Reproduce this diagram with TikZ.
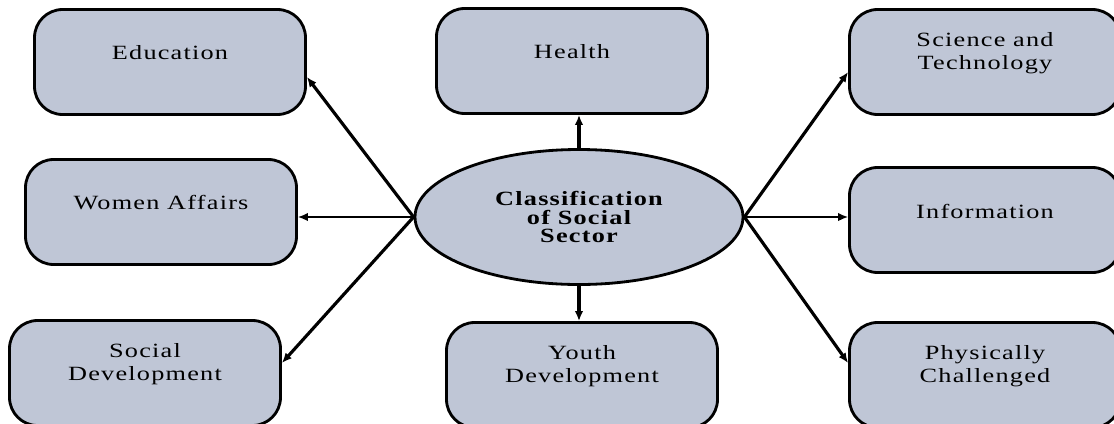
\documentclass[tikz,border=0pt]{standalone}
\usepackage{fontspec}
\setmainfont{Liberation Serif}[FakeStretch=1.3,LetterSpace=6]
\usetikzlibrary{arrows.meta,shapes.geometric}
\definecolor{boxgray}{HTML}{BFC6D6}

\begin{document}
\begin{tikzpicture}[x=0.2mm,y=0.2mm,
  every node/.style={inner sep=0pt},
  sector/.style={draw,line width=1.6pt,fill=boxgray,rounded corners=16pt,
    minimum width=5.42cm,minimum height=2.1cm},
  caption/.style={align=center,font=\fontsize{11.5}{13}\selectfont},
  link/.style={line width=1.8pt,-{Latex[length=2mm,width=1.7mm]}},
  thinlink/.style={link,line width=0.9pt}]
\useasboundingbox (0,0) rectangle (1114,-423);
% centre
\node[draw,ellipse,line width=1.6pt,fill=boxgray,minimum width=6.56cm,minimum height=2.7cm,
  align=center,font=\bfseries\fontsize{11.5}{10.3}\selectfont] (hub) at (579,-217)
  {Classification\\of Social\\Sector};
% left column
\node[sector] (edu) at (170,-62) {};
\node[caption] (edu-t) at ([yshift=1.8mm]edu.center) {Education};
\node[sector] (wom) at (161,-212) {};
\node[caption] (wom-t) at ([yshift=1.8mm]wom.center) {Women Affairs};
\node[sector] (soc) at (145,-373) {};
\node[caption] (soc-t) at ([yshift=1.8mm]soc.center) {Social\\Development};
% middle column
\node[sector] (hea) at (572,-61) {};
\node[caption] (hea-t) at ([yshift=1.8mm]hea.center) {Health};
\node[sector] (you) at (582,-375) {};
\node[caption] (you-t) at ([yshift=1.8mm]you.center) {Youth\\Development};
% right column
\node[sector] (sci) at (985,-62) {};
\node[caption] (sci-t) at ([yshift=1.8mm]sci.center) {Science and\\Technology};
\node[sector] (inf) at (985,-220) {};
\node[caption] (inf-t) at ([yshift=1.8mm]inf.center) {Information};
\node[sector] (phy) at (985,-375) {};
\node[caption] (phy-t) at ([yshift=1.8mm]phy.center) {Physically\\Challenged};
% arrows out of the centre
\draw[link] (hub.west) -- ([yshift=-3mm]edu.east);
\draw[thinlink] (hub.west) -- (hub.west -| wom.east);
\draw[link] (hub.west) -- ([yshift=2mm]soc.east);
\draw[link] (hub.north) -- (hub.north |- hea.south);
\draw[link] (hub.south) -- (hub.south |- you.north);
\draw[link] (hub.east) -- ([yshift=-2mm]sci.west);
\draw[thinlink] (hub.east) -- (hub.east -| inf.west);
\draw[link] (hub.east) -- ([yshift=2.4mm]phy.west);
\end{tikzpicture}
\end{document}
